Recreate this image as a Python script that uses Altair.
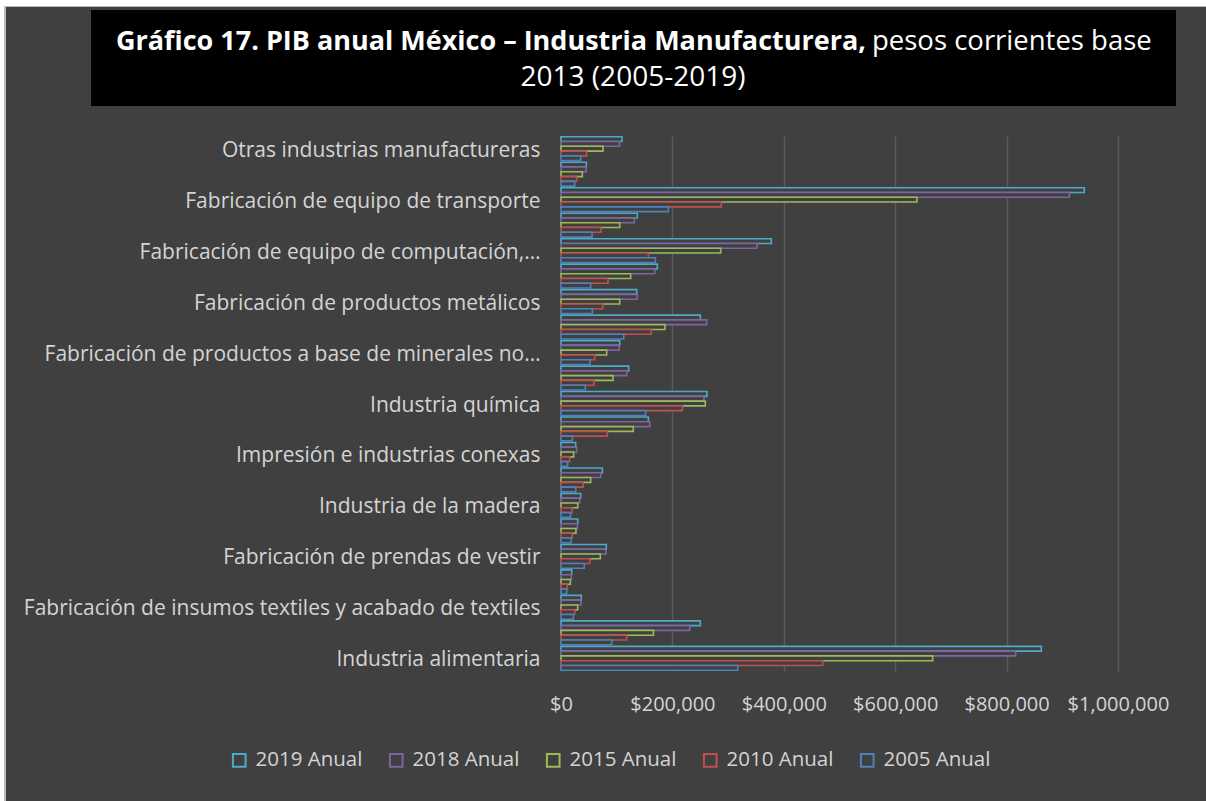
import altair as alt
import pandas as pd

# Subsectors, bottom to top (SCIAN order)
cats = [
    "Industria alimentaria",
    "Industria de las bebidas y del tabaco",
    "Fabricación de insumos textiles y acabado de textiles",
    "Fabricación de productos textiles, excepto prendas de vestir",
    "Fabricación de prendas de vestir",
    "Curtido y acabado de cuero y piel, y fabricación de productos de cuero, piel y materiales sucedáneos",
    "Industria de la madera",
    "Industria del papel",
    "Impresión e industrias conexas",
    "Fabricación de productos derivados del petróleo y del carbón",
    "Industria química",
    "Industria del plástico y del hule",
    "Fabricación de productos a base de minerales no metálicos",
    "Industrias metálicas básicas",
    "Fabricación de productos metálicos",
    "Fabricación de maquinaria y equipo",
    "Fabricación de equipo de computación, comunicación, medición y de otros equipos, componentes y accesorios electrónicos",
    "Fabricación de accesorios, aparatos eléctricos y equipo de generación de energía eléctrica",
    "Fabricación de equipo de transporte",
    "Fabricación de muebles, colchones y persianas",
    "Otras industrias manufactureras",
]

# Shortened axis labels as they appear in the chart
short_labels = {
    "Fabricación de productos a base de minerales no metálicos": "Fabricación de productos a base de minerales no…",
    "Fabricación de equipo de computación, comunicación, medición y de otros equipos, componentes y accesorios electrónicos": "Fabricación de equipo de computación,…",
}

series = ["2019 Anual", "2018 Anual", "2015 Anual", "2010 Anual", "2005 Anual"]
colors = ["#4bacc6", "#8064a2", "#9bbb59", "#c0504d", "#4f81bd"]

v2019 = [862300, 250100, 36400, 19200, 81300, 30000, 35300, 74300, 26400, 156800, 262100,
         121500, 105400, 250100, 135900, 172900, 377600, 137000, 939500, 45500, 109500]
v2018 = [816300, 231000, 35900, 18500, 80500, 29400, 33600, 71200, 28100, 159300, 256700,
         117900, 104100, 261500, 137000, 168200, 351900, 131600, 912600, 45000, 105000]
v2015 = [667300, 166000, 30000, 16800, 70600, 26900, 30000, 53300, 22700, 129800, 259100,
         93400, 82000, 186700, 105400, 125100, 286700, 105400, 639000, 38300, 75400]
v2010 = [469800, 117900, 24600, 11300, 51500, 20300, 19700, 39500, 15500, 83200, 217800,
         59200, 60500, 162100, 74900, 84400, 156800, 71800, 287800, 28100, 46000]
v2005 = [317200, 91000, 22100, 10200, 41800, 17900, 17400, 26400, 11900, 20300, 152000,
         43700, 52100, 112600, 56300, 53300, 169400, 55700, 192600, 24500, 35300]

x_ticks = [0, 200000, 400000, 600000, 800000, 1000000]

title_bold = "Gráfico 17. PIB anual México – Industria Manufacturera,"
title_rest = "pesos corrientes base"
title_line2 = "2013 (2005-2019)"

rows = []
for i, c in enumerate(cats):
    for s, vals in zip(series, [v2019, v2018, v2015, v2010, v2005]):
        rows.append({"Subsector": c, "Serie": s, "Valor": vals[i]})
df = pd.DataFrame(rows)

FONT = "Open Sans"
TXT = "#d4d4d4"
BG = "#404040"
L, T, W, H = 561, 136, 557, 535

label_expr = "datum.value"
for k, v in short_labels.items():
    label_expr = f"datum.value == '{k}' ? '{v}' : ({label_expr})"

bars = alt.Chart(df).mark_bar(fill=BG, strokeWidth=1.6).encode(
    x=alt.X(
        "Valor:Q",
        scale=alt.Scale(domain=[0, 1000000], nice=False),
        axis=alt.Axis(
            values=x_ticks, format="$,.0f", grid=True, gridColor="#5a5a5a", gridWidth=1.5,
            domain=False, ticks=False, labelFont=FONT, labelFontSize=20, labelColor=TXT,
            labelPadding=23, labelOverlap=False, labelFlush=False, title=None,
        ),
    ),
    y=alt.Y(
        "Subsector:N",
        sort=cats[::-1],
        scale=alt.Scale(paddingInner=0.0625, paddingOuter=0.03),
        axis=alt.Axis(
            values=cats[0::2], labelExpr=label_expr, domain=False, ticks=False, grid=False,
            labelFont=FONT, labelFontSize=21, labelColor=TXT, labelPadding=21,
            labelOffset=2, labelLimit=700, title=None,
        ),
    ),
    yOffset=alt.YOffset("Serie:N", sort=series, scale=alt.Scale(paddingInner=0, paddingOuter=0)),
    stroke=alt.Stroke(
        "Serie:N",
        sort=series,
        scale=alt.Scale(domain=series, range=colors),
        legend=alt.Legend(
            orient="none", direction="horizontal", legendX=-332, legendY=614, title=None,
            symbolType="square", symbolSize=160, symbolStrokeWidth=2, symbolFillColor=BG,
            labelFont=FONT, labelFontSize=20.5, labelColor=TXT, columnPadding=22, labelOffset=6,
        ),
    ),
)

one = pd.DataFrame({"k": [0]})

white_top = alt.Chart(one).mark_rect(fill="white").encode(
    x=alt.value(-L), x2=alt.value(1206 - L), y=alt.value(-T), y2=alt.value(6 - T))
white_left = alt.Chart(one).mark_rect(fill="white").encode(
    x=alt.value(-L), x2=alt.value(4 - L), y=alt.value(-T), y2=alt.value(801 - T))
edge_top = alt.Chart(one).mark_rect(fill="#bdbdbd").encode(
    x=alt.value(4 - L), x2=alt.value(1206 - L), y=alt.value(6 - T), y2=alt.value(7 - T))
edge_left = alt.Chart(one).mark_rect(fill="#bdbdbd").encode(
    x=alt.value(4 - L), x2=alt.value(6 - L), y=alt.value(6 - T), y2=alt.value(801 - T))

title_box = alt.Chart(one).mark_rect(fill="black").encode(
    x=alt.value(91 - L), x2=alt.value(1176 - L), y=alt.value(10 - T), y2=alt.value(106 - T))

split = 866 - L
t1 = alt.Chart(pd.DataFrame({"t": [title_bold]})).mark_text(
    align="right", baseline="middle", font=FONT, fontSize=27, fontWeight="bold", color="white"
).encode(text="t:N", x=alt.value(split), y=alt.value(42 - T))
t2 = alt.Chart(pd.DataFrame({"t": [title_rest]})).mark_text(
    align="left", baseline="middle", font=FONT, fontSize=27.5, color="white"
).encode(text="t:N", x=alt.value(split + 6), y=alt.value(42 - T))
t3 = alt.Chart(pd.DataFrame({"t": [title_line2]})).mark_text(
    align="center", baseline="middle", font=FONT, fontSize=28, color="white"
).encode(text="t:N", x=alt.value(633 - L), y=alt.value(78 - T))

chart = alt.layer(
    white_top, white_left, edge_top, edge_left, title_box, t1, t2, t3, bars
).properties(
    width=W, height=H,
    padding={"left": L, "top": T, "right": 1206 - L - W, "bottom": 801 - T - H},
    autosize=alt.AutoSizeParams(type="none"),
    background=BG,
).configure_view(stroke=None)

chart.save("out.html", embed_options={"renderer": "svg", "actions": False})
